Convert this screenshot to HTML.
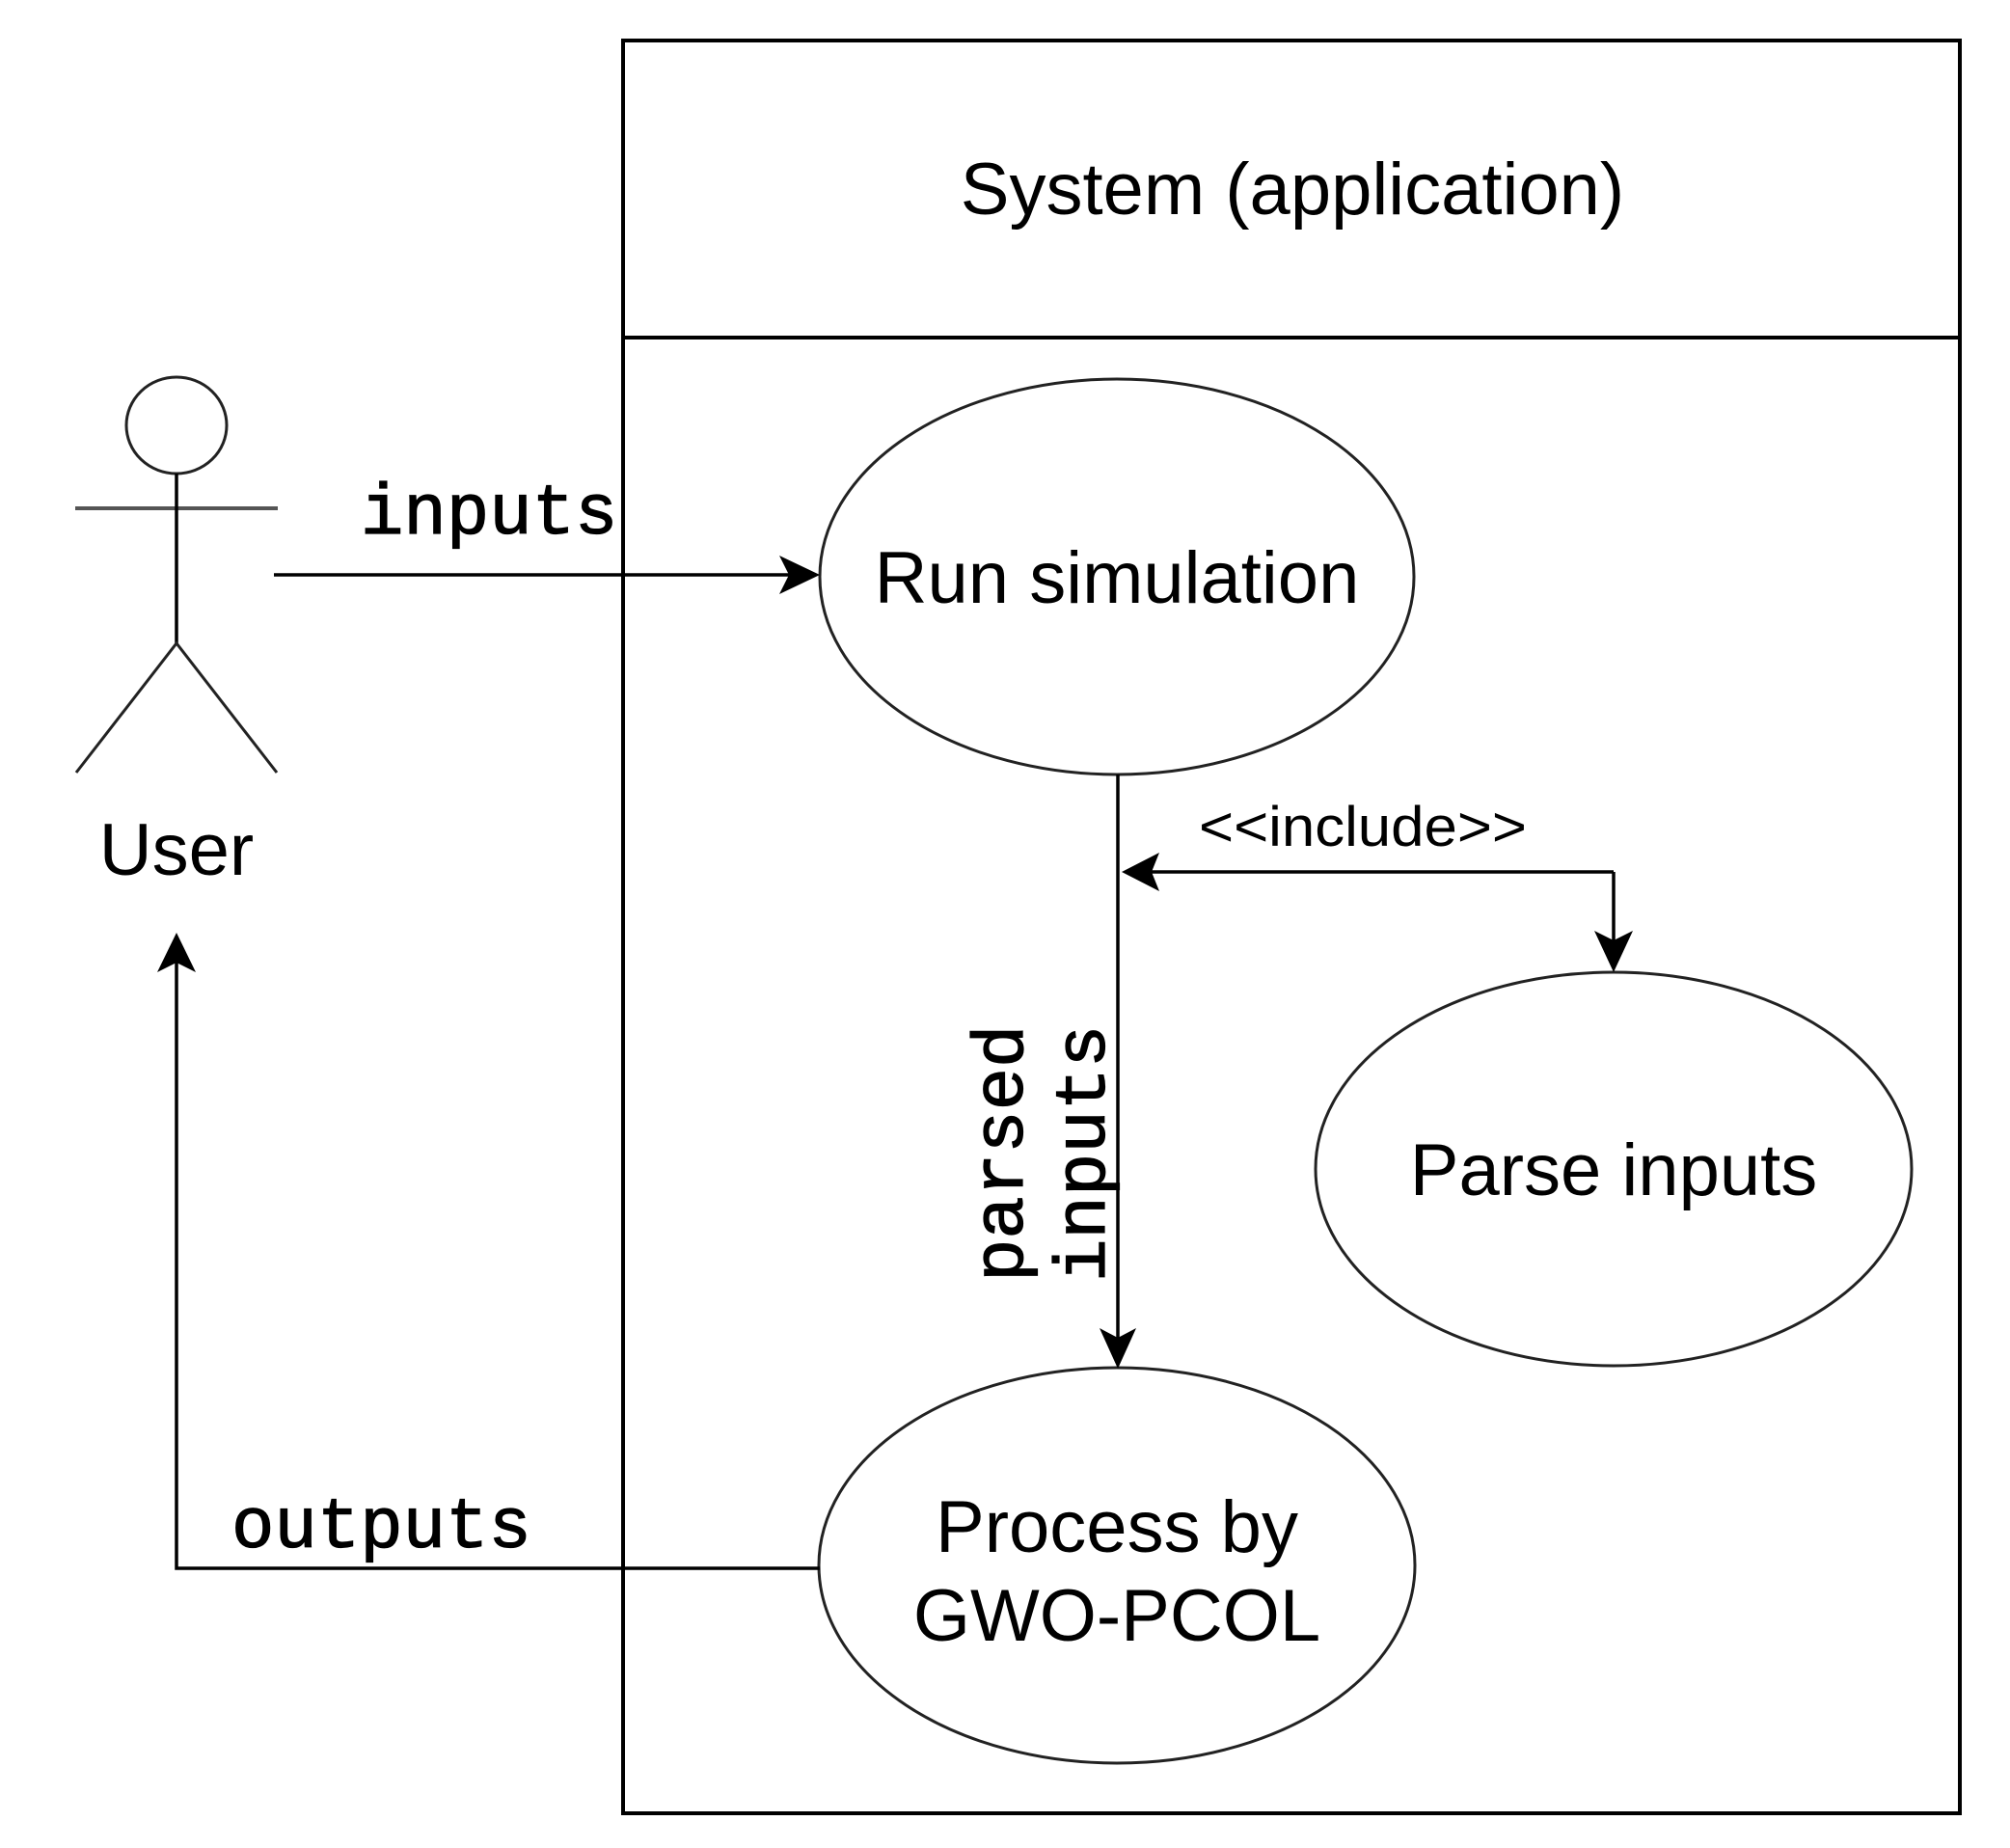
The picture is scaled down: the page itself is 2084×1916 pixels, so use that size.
<!DOCTYPE html>
<html><head><meta charset="utf-8"><style>
html,body{margin:0;padding:0;background:#fff;width:2084px;height:1916px;overflow:hidden}
svg{display:block}
.s{font-family:"Liberation Sans",Arial,sans-serif;fill:#000}
.m{font-family:"Liberation Mono","Courier New",monospace;fill:#000;stroke:#000;stroke-width:1.2}
</style></head><body>
<svg width="2084" height="1916" viewBox="0 0 2084 1916" xmlns="http://www.w3.org/2000/svg">
<!-- system box -->
<rect x="646" y="42" width="1386" height="1838" fill="none" stroke="#000" stroke-width="4"/>
<line x1="646" y1="350" x2="2032" y2="350" stroke="#000" stroke-width="4"/>
<text class="s" x="1340" y="222" font-size="76" text-anchor="middle">System (application)</text>

<!-- actor -->
<ellipse cx="183" cy="441" rx="52" ry="50" fill="none" stroke="#222" stroke-width="3"/>
<line x1="78" y1="527" x2="288" y2="527" stroke="#555" stroke-width="4"/>
<line x1="183" y1="491" x2="183" y2="667" stroke="#000" stroke-width="3.5"/>
<polyline points="79,801 183,667 287,801" fill="none" stroke="#222" stroke-width="3"/>
<text class="s" x="183" y="907" font-size="76" text-anchor="middle">User</text>

<!-- ellipses -->
<ellipse cx="1158" cy="598" rx="308" ry="205" fill="none" stroke="#222" stroke-width="3"/>
<text class="s" x="1158" y="625" font-size="76" text-anchor="middle">Run simulation</text>
<ellipse cx="1673" cy="1212" rx="309" ry="204" fill="none" stroke="#222" stroke-width="3"/>
<text class="s" x="1673" y="1239" font-size="76" text-anchor="middle">Parse inputs</text>
<ellipse cx="1158" cy="1623" rx="309" ry="205" fill="none" stroke="#222" stroke-width="3"/>
<text class="s" x="1158" y="1609" font-size="76" text-anchor="middle">Process by</text>
<text class="s" x="1158" y="1701" font-size="76" text-anchor="middle">GWO-PCOL</text>

<!-- inputs arrow -->
<line x1="284" y1="596" x2="830" y2="596" stroke="#000" stroke-width="3.5"/>
<polygon points="850,596 808,576 818,596 808,616" fill="#000"/>
<text class="m" x="374" y="553" font-size="74">inputs</text>

<!-- run -> process -->
<line x1="1159" y1="803" x2="1159" y2="1400" stroke="#000" stroke-width="3.5"/>
<polygon points="1159,1419 1140,1377 1159,1387 1178,1377" fill="#000"/>
<text class="m" font-size="74" transform="translate(1060,1329) rotate(-90)">parsed</text>
<text class="m" font-size="74" transform="translate(1145,1329) rotate(-90)">inputs</text>

<!-- include -->
<line x1="1180" y1="904" x2="1673" y2="904" stroke="#000" stroke-width="3.5"/>
<line x1="1673" y1="904" x2="1673" y2="990" stroke="#000" stroke-width="3.5"/>
<polygon points="1163,904 1202,884 1194,904 1202,924" fill="#000"/>
<polygon points="1673,1008 1653,965 1673,975 1693,965" fill="#000"/>
<text class="s" x="1413" y="877" font-size="58" text-anchor="middle" textLength="340" lengthAdjust="spacingAndGlyphs">&lt;&lt;include&gt;&gt;</text>

<!-- outputs -->
<polyline points="850,1626 183,1626 183,990" fill="none" stroke="#000" stroke-width="3.5"/>
<polygon points="183,967 163,1008 183,998 203,1008" fill="#000"/>
<text class="m" x="240" y="1604" font-size="74">outputs</text>
</svg>
</body></html>
